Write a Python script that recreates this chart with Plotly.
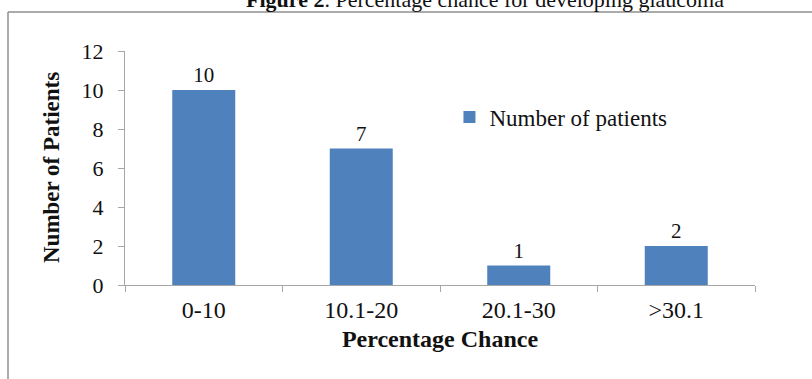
import plotly.graph_objects as go

# Percentage chance bands and patient counts
categories = ["0-10", "10.1-20", "20.1-30", ">30.1"]
patients = [10, 7, 1, 2]
y_ticks = [0, 2, 4, 6, 8, 10, 12]

SERIF = "Liberation Serif, Times New Roman, serif"
AXIS_GRAY = "#a6a6a6"
FRAME_GRAY = "#8f8f8f"

fig = go.Figure()
fig.add_trace(go.Bar(
    x=categories,
    y=patients,
    name="Number of patients",
    marker=dict(color="#4f81bd", line=dict(width=0)),
    texttemplate="%{y}",
    textposition="outside",
    textfont=dict(family=SERIF, size=21, color="#111111"),
    cliponaxis=False,
))

fig.update_layout(
    width=812,
    height=379,
    margin=dict(l=125, r=57, t=51, b=94),
    paper_bgcolor="white",
    plot_bgcolor="white",
    bargap=0.6,
    showlegend=True,
    legend=dict(
        x=0.515, y=0.718, xanchor="left", yanchor="middle",
        font=dict(family=SERIF, size=23, color="#111111"),
        bgcolor="rgba(0,0,0,0)", itemwidth=30,
    ),
    xaxis=dict(
        type="category",
        showline=True, linecolor=AXIS_GRAY, linewidth=1,
        ticks="outside", tickson="boundaries", ticklen=6, tickcolor=AXIS_GRAY,
        tickfont=dict(family=SERIF, size=24, color="#111111"),
        ticklabelstandoff=3,
        showgrid=False, zeroline=False,
        title=dict(text="<b>Percentage Chance</b>", standoff=8,
                   font=dict(family=SERIF, size=24, color="#111111")),
    ),
    yaxis=dict(
        range=[0, 12], tickvals=y_ticks,
        showline=True, linecolor=AXIS_GRAY, linewidth=1,
        ticks="outside", ticklen=6, tickcolor=AXIS_GRAY,
        tickfont=dict(family=SERIF, size=22, color="#111111"),
        ticklabelstandoff=10,
        showgrid=False, zeroline=False,
    ),
    font=dict(family=SERIF, color="#111111"),
)

# Y-axis title, rotated
fig.add_annotation(
    text="<b>Number of Patients</b>", textangle=-90,
    xref="paper", yref="paper", x=(51 - 125) / 630, y=0.5,
    xanchor="center", yanchor="middle", showarrow=False,
    font=dict(family=SERIF, size=23, color="#111111"),
)

# Figure caption above the frame
fig.add_annotation(
    text="<b>Figure 2</b>. Percentage chance for developing glaucoma",
    xref="paper", yref="paper", x=(485 - 125) / 630, y=1.158,
    xanchor="center", yanchor="bottom", showarrow=False,
    font=dict(family=SERIF, size=22, color="#111111"),
)

# Outer frame: top and left border lines
fig.add_shape(type="line", xref="paper", yref="paper",
              x0=(8 - 125) / 630, x1=(812 - 125) / 630,
              y0=(285 - 12) / 234, y1=(285 - 12) / 234,
              line=dict(color=FRAME_GRAY, width=1.5))
fig.add_shape(type="line", xref="paper", yref="paper",
              x0=(8 - 125) / 630, x1=(8 - 125) / 630,
              y0=(285 - 12) / 234, y1=(285 - 380) / 234,
              line=dict(color=FRAME_GRAY, width=1.5))

fig.write_html("out.html")
